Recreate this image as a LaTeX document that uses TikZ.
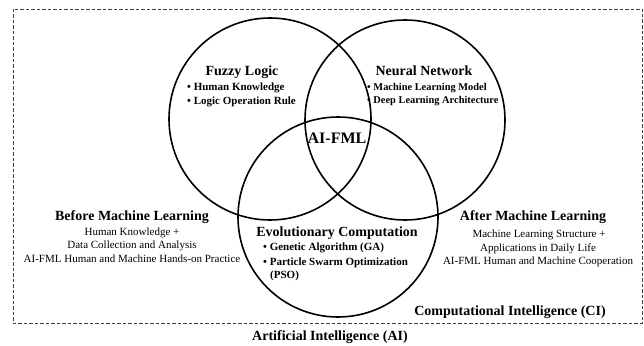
\documentclass[tikz,border=0pt]{standalone}
\usepackage{fontspec}
\setmainfont{Liberation Serif}
\usetikzlibrary{calc}

\tikzset{
  ring/.style={line width=1.6pt},
  head/.style={font=\fontsize{14}{16}\selectfont\bfseries, inner sep=0pt},
  item/.style={font=\fontsize{11}{13}\selectfont\bfseries, anchor=west, inner sep=0pt},
  plain/.style={font=\fontsize{11}{13}\selectfont, inner sep=0pt},
}

\begin{document}
\begin{tikzpicture}[x=1pt, y=-1pt]
\useasboundingbox (0, 0) rectangle (644, 345);

\draw[black!75, line width=0.7pt, dash pattern=on 3.5pt off 2pt] (13, 9) rectangle (642, 323);

\coordinate (fl) at (270, 119);
\coordinate (nn) at (405, 120);
\coordinate (ec) at (338, 217);
\draw[ring] (fl) circle (101);
\draw[ring] (nn) circle (100);
\draw[ring] (ec) circle (100);

\node[head] (fuzzy) at (242, 72) {Fuzzy Logic};
\node[item] (fuzzyA) at (187, 88) {\textbullet\ Human Knowledge};
\node[item] (fuzzyB) at (187, 102) {\textbullet\ Logic Operation Rule};

\node[head] (neural) at (424, 71) {Neural Network};
\node[item, font=\fontsize{10.4}{12}\selectfont\bfseries] (neuralA) at (367, 88) {\textbullet\ Machine Learning Model};
\node[item, font=\fontsize{10.4}{12}\selectfont\bfseries] (neuralB) at (367, 101) {\textbullet\ Deep Learning Architecture};

\node[head, font=\fontsize{16}{18}\selectfont\bfseries] (aifml) at (337, 138) {AI-FML};

\node[head] (evo) at (337, 233) {Evolutionary Computation};
\node[item] (evoA) at (263, 248) {\textbullet\ Genetic Algorithm (GA)};
\node[item] (evoB) at (263, 263) {\textbullet\ Particle Swarm Optimization};
\node[item] (evoC) at (270, 276) {(PSO)};

\node[head] (before) at (132, 217) {Before Machine Learning};
\node[plain] (beforeA) at (132, 233) {Human Knowledge +};
\node[plain] (beforeB) at (132, 246) {Data Collection and Analysis};
\node[plain] (beforeC) at (132, 259) {AI-FML Human and Machine Hands-on Practice};

\node[head] (after) at (533, 217) {After Machine Learning};
\node[plain] (afterA) at (539, 235) {Machine Learning Structure +};
\node[plain] (afterB) at (538, 249) {Applications in Daily Life};
\node[plain] (afterC) at (538, 262) {AI-FML Human and Machine Cooperation};

\node[head] (ci) at (510, 312) {Computational Intelligence (CI)};
\node[head] (ai) at (330, 337) {Artificial Intelligence (AI)};
\end{tikzpicture}
\end{document}
